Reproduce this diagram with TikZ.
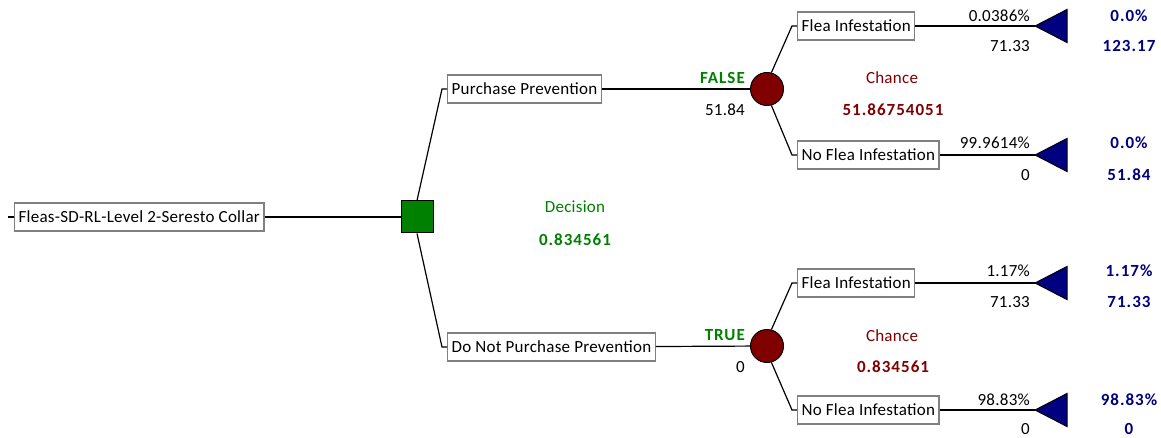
\documentclass[tikz,border=0pt]{standalone}
\usepackage{fontspec}
\setmainfont{Carlito}[LetterSpace=1.5]
\newfontfamily\valfont{Carlito}[LetterSpace=6]
\usetikzlibrary{positioning}

\definecolor{decgreen}{RGB}{0,128,0}
\definecolor{chancered}{RGB}{128,0,0}
\definecolor{endblue}{RGB}{0,0,128}
\definecolor{boxgray}{RGB}{128,128,128}

\begin{document}
\begin{tikzpicture}[
  x=1pt, y=-1pt,
  font=\fontsize{17}{20}\selectfont,
  box/.style={draw=boxgray, line width=1.2pt, fill=white, minimum height=28pt, inner xsep=4pt, anchor=west},
  link/.style={line width=1.2pt},
  decnode/.style={draw, line width=1pt, fill=decgreen, minimum width=32pt, minimum height=32pt},
  chnode/.style={circle, draw, line width=1pt, fill=chancered, minimum size=33pt, inner sep=0pt},
  endtri/.style={draw, line width=1pt, fill=endblue},
  lbl/.style={anchor=east, inner sep=0pt},
  val/.style={inner sep=0pt, font=\fontsize{17}{20}\valfont\bfseries}]
\useasboundingbox (0,0) rectangle (1161,438);
\node[box] (root) at (14,217) {Fleas-SD-RL-Level 2-Seresto Collar};
\node[decnode] (dec) at (417,217) {};
\node[box] (buy) at (447,89) {Purchase Prevention};
\node[box] (nobuy) at (447,347) {Do Not Purchase Prevention};
\node[chnode] (chA) at (767,89) {};
\node[chnode] (chB) at (767,346) {};
\node[box] (fleaA) at (797,26) {Flea Infestation};
\node[box] (nofleaA) at (797,155) {No Flea Infestation};
\node[box] (fleaB) at (797,283) {Flea Infestation};
\node[box] (nofleaB) at (797,410) {No Flea Infestation};
\coordinate (tipA1) at (1035,26);
\coordinate (tipA2) at (1035,155);
\coordinate (tipB1) at (1035,283);
\coordinate (tipB2) at (1035,410);
\foreach \t in {tipA1,tipA2,tipB1,tipB2}
  \filldraw[endtri] (\t) -- ++(32,-16.5) -- ++(0,33) -- cycle;

\draw[link] (root.west) -- ++(-6,0);
\draw[link] (root) -- (dec);
\draw[link] (dec.north) -- ([xshift=-5pt]buy.west) -- (buy.west);
\draw[link] (dec.south) -- ([xshift=-5pt]nobuy.west) -- (nobuy.west);
\draw[link] (buy) -- (chA);
\draw[link] (nobuy) -- (chB);
\draw[link] (chA.75) -- ([xshift=-5pt]fleaA.west) -- (fleaA.west);
\draw[link] (chA.-75) -- ([xshift=-5pt]nofleaA.west) -- (nofleaA.west);
\draw[link] (chB.75) -- ([xshift=-5pt]fleaB.west) -- (fleaB.west);
\draw[link] (chB.-75) -- ([xshift=-5pt]nofleaB.west) -- (nofleaB.west);
\draw[link] (fleaA) -- (tipA1);
\draw[link] (nofleaA) -- (tipA2);
\draw[link] (fleaB) -- (tipB1);
\draw[link] (nofleaB) -- (tipB2);

\node[val, decgreen, anchor=east] (falselbl) at (745,78) {FALSE};
\node[lbl] (buyval) at (745,110) {51.84};
\node[val, decgreen, anchor=east] (truelbl) at (745,335) {TRUE};
\node[lbl] (nobuyval) at (745,367) {0};

\node[decgreen] (dectxt) at (575,207) {Decision};
\node[val, decgreen] (decval) at (575,240) {0.834561};
\node[chancered] (chAtxt) at (892,78) {Chance};
\node[val, chancered] (chAval) at (893,110) {51.86754051};
\node[chancered] (chBtxt) at (892,336) {Chance};
\node[val, chancered] (chBval) at (893,367) {0.834561};

\node[lbl] (pA1) at (1030,16) {0.0386\%};
\node[lbl] (cA1) at (1030,46) {71.33};
\node[lbl] (pA2) at (1030,143) {99.9614\%};
\node[lbl] (cA2) at (1030,175) {0};
\node[lbl] (pB1) at (1030,271) {1.17\%};
\node[lbl] (cB1) at (1030,302) {71.33};
\node[lbl] (pB2) at (1030,400) {98.83\%};
\node[lbl] (cB2) at (1030,429) {0};

\node[val, endblue] (rA1) at (1129,16) {0.0\%};
\node[val, endblue] (vA1) at (1129,46) {123.17};
\node[val, endblue] (rA2) at (1129,143) {0.0\%};
\node[val, endblue] (vA2) at (1129,175) {51.84};
\node[val, endblue] (rB1) at (1129,271) {1.17\%};
\node[val, endblue] (vB1) at (1129,302) {71.33};
\node[val, endblue] (rB2) at (1129,400) {98.83\%};
\node[val, endblue] (vB2) at (1129,429) {0};
\end{tikzpicture}
\end{document}
